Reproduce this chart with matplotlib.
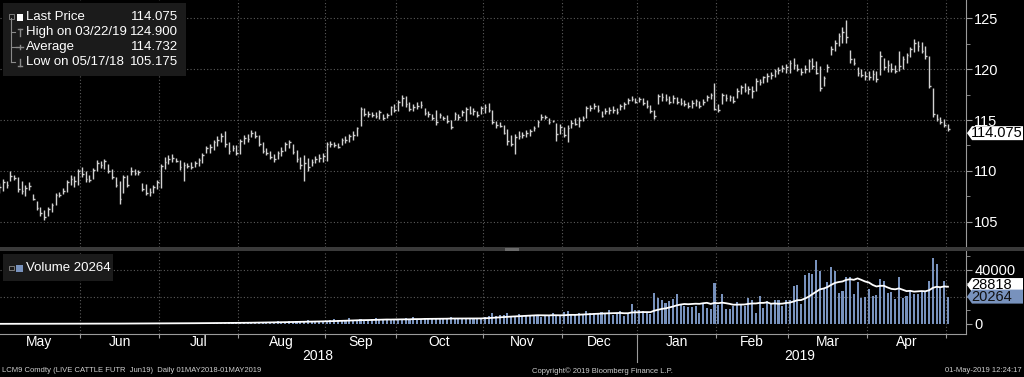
import numpy as np
import pandas as pd
import matplotlib
matplotlib.use("Agg")
import matplotlib.pyplot as plt
from matplotlib.patches import Rectangle, Polygon
from matplotlib.lines import Line2D

W, H = 1024, 377

# CME trading days 01MAY2018 - 01MAY2019
holidays = ["2018-05-28", "2018-07-04", "2018-09-03", "2018-11-22", "2018-12-25",
            "2019-01-01", "2019-01-21", "2019-02-18", "2019-04-19"]
dates = pd.bdate_range("2018-05-01", "2019-05-01")
dates = dates[~dates.isin(pd.to_datetime(holidays))]

# daily bars: (low, high, close)
bars = [
    # May 2018
    (107.8, 108.8, 108.4), (108.0, 109.2, 108.9), (108.3, 109.0, 108.6), (109.0, 110.0, 109.5),
    (109.1, 109.6, 109.3), (107.9, 109.4, 108.2), (107.7, 109.0, 108.0), (107.5, 108.6, 108.3),
    (108.1, 108.9, 108.5), (107.1, 107.7, 107.2), (106.1, 107.0, 106.3), (105.6, 106.4, 105.8),
    (105.175, 106.1, 105.5), (105.6, 106.4, 106.2), (105.9, 106.8, 106.6), (106.6, 107.8, 107.6),
    (107.4, 107.9, 107.6), (107.7, 108.3, 108.0), (107.9, 109.1, 108.9), (108.6, 109.6, 109.2),
    (108.4, 109.5, 109.0), (108.6, 110.2, 110.0),
    # Jun
    (109.4, 110.4, 109.7), (108.9, 110.0, 109.2), (108.9, 109.6, 109.1), (109.2, 110.3, 110.1),
    (110.0, 111.1, 110.8), (110.3, 111.0, 110.6), (110.2, 111.2, 111.0), (109.8, 110.7, 110.0),
    (109.2, 110.2, 109.4), (108.4, 109.4, 108.6), (106.7, 109.0, 107.2), (107.8, 109.6, 109.4),
    (108.4, 109.6, 108.6), (109.6, 110.4, 110.0), (109.6, 110.2, 109.8), (109.6, 110.1, 109.9),
    (108.0, 108.8, 108.2), (107.6, 108.7, 107.8), (107.5, 108.3, 107.9), (107.8, 108.6, 108.4),
    (108.2, 109.1, 108.9),
    # Jul
    (108.3, 110.7, 110.5), (110.2, 111.4, 110.9), (110.7, 111.6, 111.2), (110.9, 111.7, 111.3),
    (110.9, 111.3, 111.0), (110.1, 111.1, 110.4), (109.0, 110.9, 110.6), (110.3, 110.8, 110.5),
    (110.2, 110.9, 110.4), (110.4, 111.0, 110.8), (110.5, 111.3, 111.1), (110.8, 111.8, 111.6),
    (111.8, 112.4, 112.2), (111.8, 112.6, 112.3), (112.1, 113.0, 112.8), (112.4, 113.4, 113.0),
    (112.8, 113.7, 113.4), (112.3, 113.9, 112.6), (111.7, 112.8, 112.0), (112.0, 112.5, 112.2),
    (111.6, 112.5, 111.8),
    # Aug
    (111.7, 113.1, 112.9), (112.6, 113.5, 113.2), (112.8, 113.6, 113.1), (113.3, 114.0, 113.7),
    (113.2, 113.9, 113.4), (112.4, 113.5, 112.6), (111.8, 112.8, 112.0), (111.6, 112.2, 111.8),
    (111.2, 112.0, 111.4), (110.9, 111.7, 111.2), (111.2, 112.0, 111.8), (111.5, 112.3, 112.0),
    (112.0, 112.8, 112.6), (112.2, 113.0, 112.8), (111.7, 112.6, 111.9), (110.9, 112.1, 111.2),
    (110.2, 111.4, 110.6), (109.0, 111.6, 110.8), (110.0, 111.3, 110.4), (110.5, 111.2, 110.9),
    (110.8, 111.5, 111.2), (110.9, 111.7, 111.3), (110.9, 111.8, 111.5),
    # Sep
    (111.0, 112.8, 112.6), (112.3, 112.9, 112.6), (112.3, 112.8, 112.5), (112.2, 112.7, 112.3),
    (112.5, 113.2, 113.0), (112.7, 113.4, 113.0), (112.8, 113.6, 113.4), (113.0, 113.9, 113.5),
    (113.4, 114.3, 114.2), (114.4, 116.3, 116.1), (115.4, 116.2, 115.6), (115.3, 115.9, 115.6),
    (115.3, 115.8, 115.5), (115.2, 115.8, 115.4), (115.1, 116.0, 115.8), (115.0, 115.6, 115.2),
    (115.2, 115.7, 115.5), (115.5, 116.4, 116.3), (115.8, 116.6, 116.0),
    # Oct
    (115.9, 117.0, 116.8), (116.4, 117.5, 117.2), (116.3, 117.4, 116.6), (115.9, 116.8, 116.1),
    (115.9, 116.6, 116.3), (116.1, 116.8, 116.4), (116.2, 116.9, 116.5), (115.5, 116.2, 115.7),
    (115.3, 115.9, 115.6), (115.0, 115.6, 115.2), (114.5, 116.0, 114.8), (115.2, 115.7, 115.5),
    (115.0, 115.4, 115.2), (114.7, 115.5, 114.9), (114.1, 115.0, 114.3), (115.0, 115.8, 115.6),
    (115.0, 115.6, 115.3), (115.4, 116.0, 115.8), (114.9, 116.3, 116.1), (115.6, 116.4, 115.7),
    (115.5, 116.2, 115.9), (115.3, 115.9, 115.5), (115.6, 116.4, 116.2),
    # Nov
    (115.7, 116.6, 116.3), (115.8, 116.7, 116.0), (114.6, 116.0, 114.8), (114.2, 114.9, 114.5),
    (114.3, 114.8, 114.4), (113.6, 114.5, 113.7), (112.5, 114.1, 112.9), (112.4, 113.5, 112.6),
    (111.7, 113.6, 113.3), (113.1, 113.9, 113.4), (113.2, 113.8, 113.5), (113.3, 114.0, 113.7),
    (113.4, 114.1, 113.9), (113.9, 114.4, 114.2), (114.3, 115.0, 114.8), (115.0, 115.6, 115.3),
    (115.1, 115.5, 115.3), (114.6, 115.2, 114.8), (114.8, 115.0, 114.9), (112.9, 114.7, 113.6),
    (113.6, 114.6, 114.3),
    # Dec
    (113.3, 114.3, 113.5), (112.8, 114.5, 114.2), (114.2, 115.0, 114.7), (114.5, 115.2, 114.6),
    (114.3, 115.3, 115.0), (114.9, 115.4, 115.2), (115.2, 116.4, 116.2), (115.9, 116.5, 116.2),
    (116.1, 116.7, 116.4), (115.8, 116.5, 116.0), (115.3, 115.9, 115.4), (115.6, 116.2, 115.9),
    (115.6, 116.3, 116.0), (115.7, 116.4, 116.0), (115.6, 116.2, 115.8), (116.0, 116.6, 116.4),
    (116.1, 116.8, 116.6), (116.6, 117.2, 117.0), (116.9, 117.4, 117.1), (116.7, 117.2, 116.8),
    # Jan 2019
    (116.8, 117.3, 117.1), (116.5, 117.2, 116.7), (116.2, 117.0, 116.4), (115.7, 116.5, 115.9),
    (115.1, 116.0, 115.4), (116.6, 117.6, 117.4), (116.9, 117.7, 117.3), (116.9, 117.6, 117.1),
    (116.6, 117.4, 116.8), (116.7, 117.5, 117.2), (116.6, 117.3, 116.8), (116.5, 117.2, 116.7),
    (116.4, 117.0, 116.6), (116.2, 116.8, 116.4), (116.2, 117.0, 116.7), (116.4, 117.1, 116.9),
    (116.2, 116.9, 116.4), (116.5, 117.1, 116.8), (116.9, 117.5, 117.3), (117.1, 117.7, 117.5),
    (116.0, 118.6, 116.1),
    # Feb
    (115.8, 116.6, 116.0), (116.6, 117.7, 117.5), (116.9, 117.6, 117.2), (116.9, 117.5, 117.3),
    (116.7, 117.4, 116.9), (117.2, 118.2, 117.9), (117.6, 118.5, 118.3), (117.8, 118.6, 118.0),
    (117.6, 118.4, 118.1), (117.2, 118.4, 117.9), (117.9, 119.1, 118.8), (118.5, 119.0, 118.7),
    (118.6, 119.3, 119.2), (118.7, 119.6, 119.3), (119.0, 119.7, 119.4), (119.2, 120.0, 119.8),
    (119.5, 120.2, 119.9), (119.7, 120.4, 120.1), (119.6, 120.5, 120.2),
    # Mar
    (119.6, 120.9, 120.6), (120.0, 121.1, 120.4), (119.8, 120.5, 120.0), (119.4, 120.1, 119.7),
    (119.6, 120.4, 120.0), (119.7, 121.0, 120.8), (120.0, 121.1, 120.3), (119.5, 120.8, 119.6),
    (117.9, 120.3, 118.2), (118.4, 119.3, 119.1), (119.7, 120.5, 120.2), (121.4, 122.3, 122.0),
    (121.8, 122.9, 122.6), (122.3, 123.6, 123.3), (122.6, 124.2, 123.7), (122.6, 124.9, 123.2),
    (120.6, 121.9, 121.0), (120.4, 121.1, 120.6), (119.3, 120.2, 119.6), (119.2, 120.0, 119.4),
    (118.9, 119.8, 119.3),
    # Apr
    (118.9, 119.8, 119.2), (118.9, 119.9, 119.5), (118.7, 119.8, 119.0), (119.4, 121.8, 121.3),
    (119.9, 121.1, 120.2), (119.7, 120.9, 120.4), (119.7, 120.6, 120.0), (119.6, 120.4, 119.8),
    (119.8, 121.8, 120.3), (120.0, 121.3, 121.0), (120.6, 121.6, 121.4), (121.2, 122.2, 122.0),
    (121.7, 123.0, 122.6), (121.8, 122.8, 122.3), (121.6, 122.7, 121.8), (121.0, 122.3, 121.3),
    (118.2, 121.3, 118.4), (115.3, 118.2, 115.6), (114.9, 115.6, 115.1), (114.6, 115.3, 114.8),
    (114.3, 115.1, 114.5),
    # May 1
    (113.9, 114.6, 114.075),
]

volume = [
    # May 2018
    120, 80, 150, 210, 90, 160, 230, 130, 280, 190, 250, 310, 180, 140, 260, 200, 170, 220, 150, 300, 240, 180,
    # Jun
    260, 320, 210, 380, 290, 450, 310, 270, 400, 350, 520, 300, 280, 460, 390, 330, 510, 420, 360, 480, 550,
    # Jul
    600, 450, 700, 520, 880, 640, 590, 760, 830, 500, 940, 720, 680, 1050, 610, 870, 990, 760, 1120, 930, 800,
    # Aug
    1200, 950, 1400, 1100, 1650, 1300, 1250, 1800, 1500, 1350, 2100, 1700, 1450, 1900, 1600, 2300, 1750, 2050,
    2600, 1900, 2200, 2450, 2100,
    # Sep
    2400, 2800, 3500, 2600, 3100, 2900, 4200, 3300, 2700, 3600, 3000, 2800, 3400, 4800, 3200, 2900, 3700, 3100, 3500,
    # Oct
    3900, 3300, 4100, 3600, 5200, 3800, 3400, 4400, 3700, 3900, 4600, 3500, 4200, 3800, 5100, 4000, 3600, 4300,
    3900, 4700, 4100, 4500, 3800,
    # Nov
    5400, 6200, 7800, 5800, 6600, 6900, 8400, 6100, 5700, 7200, 5900, 6300, 6800, 5600, 6500, 4900, 6000, 6700,
    8200, 5800, 6400,
    # Dec
    8600, 9400, 7200, 6800, 8100, 7500, 9800, 7900, 8300, 7100, 9000, 7500, 10000, 6500, 8000, 9500, 6000, 7500,
    15000, 10000,
    # Jan 2019
    10500, 9500, 8000, 7500, 23000, 19000, 17500, 15500, 17000, 18500, 22500, 15000, 13500, 12500, 12500, 13500,
    8000, 15000, 12000, 11000, 30000,
    # Feb
    14000, 22000, 11000, 11000, 13000, 16000, 14000, 13500, 19500, 17500, 8500, 21000, 12000, 17000, 15000, 17500,
    17500, 13000, 18000,
    # Mar
    17500, 28000, 28500, 15000, 36000, 38000, 37000, 47700, 39000, 26000, 31000, 42000, 39000, 23000, 24500, 35000,
    35000, 22000, 31000, 19500, 20000,
    # Apr
    26000, 21000, 21500, 33000, 31500, 23000, 23500, 18500, 34500, 19500, 20500, 25000, 22000, 22500, 23500, 23500,
    32000, 49000, 44500, 26500, 32000,
    # May 1
    20264,
]

lows = np.array([b[0] for b in bars])
highs = np.array([b[1] for b in bars])
closes = np.array([b[2] for b in bars])
vol = np.array(volume, dtype=float)
x = np.arange(len(dates))
vol_avg = pd.Series(vol).rolling(15, min_periods=1).mean().values

month_first = [i for i in range(len(dates)) if i == 0 or dates[i].month != dates[i - 1].month]
bounds = [i - 0.5 for i in month_first[1:]]
edges = [-0.5] + bounds
mids = [(edges[k] + edges[k + 1]) / 2 for k in range(len(edges) - 1)]
month_names = [dates[i].strftime("%b") for i in month_first[:-1]]

BG = "black"
GRID = "#5c5c5c"
SPINE = "#9a9a9a"
TXT = "white"
BARC = "#d2d2d2"
VOLC = "#7892bd"
plt.rcParams["font.family"] = ["Liberation Sans", "DejaVu Sans"]

fig = plt.figure(figsize=(W / 100, H / 100), dpi=100, facecolor=BG)


def rect(x0, y0, x1, y1):
    return [x0 / W, 1 - y1 / H, (x1 - x0) / W, (y1 - y0) / H]


def fx(px):
    return px / W


def fy(py):
    return 1 - py / H


xlim = (0.25, 256.8)
ax = fig.add_axes(rect(0, 0, 966, 247), facecolor=BG)
axv = fig.add_axes(rect(0, 251, 966, 334), facecolor=BG)

# price bars
ax.vlines(x, lows, highs, color=BARC, lw=1.0)
ax.hlines(closes, x, x + 0.45, color=BARC, lw=1.0)
pmin, pmax = 103.18, 126.82
ax.set_ylim(pmin, pmax)

# volume
axv.bar(x, vol, width=0.55, color=VOLC, linewidth=0)
axv.plot(x, vol_avg, color="white", lw=1.3)
vmin, vmax = -7400, 54000
axv.set_ylim(vmin, vmax)

for a in (ax, axv):
    a.set_xlim(*xlim)
    for s in ("left", "top", "bottom"):
        a.spines[s].set_visible(False)
    a.spines["right"].set_color(SPINE)
    a.yaxis.tick_right()
    a.tick_params(axis="y", which="both", colors=SPINE, labelcolor=TXT, direction="out", labelsize=10.5, pad=2)
    a.tick_params(axis="y", which="major", length=4)
    a.tick_params(axis="y", which="minor", length=3)
    for b in bounds:
        a.axvline(b, color=GRID, lw=0.8, ls=(0, (1, 2)), zorder=0)

ax.set_yticks([105, 110, 115, 120, 125])
ax.set_yticks([102.5, 107.5, 112.5, 117.5, 122.5], minor=True)
ax.set_xticks([])
for t in [105, 110, 115, 120, 125]:
    ax.axhline(t, color=GRID, lw=0.8, ls=(0, (1, 2)), zorder=0)

axv.set_yticks([0, 40000])
axv.set_yticklabels(["0", "40000"])
axv.set_yticks([10000, 20000, 30000, 50000], minor=True)
for t in [20000, 40000]:
    axv.axhline(t, color=GRID, lw=0.8, ls=(0, (1, 2)), zorder=0)

axv.spines["bottom"].set_visible(True)
axv.spines["bottom"].set_color(SPINE)
axv.set_xticks(bounds)
axv.set_xticklabels([])
axv.set_xticks(mids, minor=True)
axv.set_xticklabels(month_names, minor=True)
axv.tick_params(axis="x", which="major", colors=SPINE, length=3, direction="out")
axv.tick_params(axis="x", which="minor", length=0, labelcolor=TXT, labelsize=10, pad=1)

# panel separator
fig.patches.append(Rectangle((0, fy(251)), 1, (251 - 247) / H, transform=fig.transFigure,
                             facecolor="#3a3a3a", edgecolor="none"))
fig.patches.append(Rectangle((fx(505), fy(250.5)), 14 / W, 3 / H, transform=fig.transFigure,
                             facecolor="#6a6a6a", edgecolor="none"))


def tag(yc, label, face, color):
    pts = [(fx(967), fy(yc)), (fx(972), fy(yc - 7)), (fx(1023), fy(yc - 7)),
           (fx(1023), fy(yc + 7)), (fx(972), fy(yc + 7))]
    fig.patches.append(Polygon(pts, closed=True, transform=fig.transFigure, facecolor=face, edgecolor="none"))
    fig.text(fx(971), fy(yc), label, color=color, fontsize=10.5, va="center", ha="left")


def price_px(p):
    return 247 * (pmax - p) / (pmax - pmin)


def vol_px(v):
    return 251 + 83 * (vmax - v) / (vmax - vmin)


tag(price_px(closes[-1]), "114.075", "white", "black")
tag(vol_px(28818), "28818", "white", "black")
tag(vol_px(vol[-1]), "20264", "#7892bd", "#111111")

# legend box (price)
fig.patches.append(Rectangle((fx(3), fy(76)), 183 / W, 73 / H, transform=fig.transFigure,
                             facecolor="#1b1b1b", edgecolor="none"))
rows = [("Last Price", "114.075"), ("High on 03/22/19", "124.900"),
        ("Average", "114.732"), ("Low on 05/17/18", "105.175")]
row_y = [17, 32, 47, 62]
for (lab, val), yy in zip(rows, row_y):
    fig.text(fx(26), fy(yy), lab, color=TXT, fontsize=9.5, va="center", ha="left")
    fig.text(fx(178), fy(yy), val, color=TXT, fontsize=9.5, va="center", ha="right")
LG = "#8a8a8a"
fig.lines.append(Line2D([fx(11), fx(11)], [fy(18), fy(62)], transform=fig.transFigure, color=LG, lw=0.8))
for yy in row_y[1:]:
    fig.lines.append(Line2D([fx(11), fx(15)], [fy(yy), fy(yy)], transform=fig.transFigure, color=LG, lw=0.8))
fig.patches.append(Rectangle((fx(9), fy(18.5)), 4.5 / W, 4.5 / H, transform=fig.transFigure,
                             facecolor="#1b1b1b", edgecolor=LG, lw=0.6))
fig.patches.append(Rectangle((fx(16.5), fy(20.5)), 6.5 / W, 7 / H, transform=fig.transFigure,
                             facecolor="white", edgecolor="none"))
# high / average / low glyphs
fig.lines.append(Line2D([fx(19.5), fx(19.5)], [fy(29), fy(36)], transform=fig.transFigure, color=LG, lw=1))
fig.lines.append(Line2D([fx(17.5), fx(21.5)], [fy(29), fy(29)], transform=fig.transFigure, color=LG, lw=1))
fig.lines.append(Line2D([fx(16), fx(23)], [fy(47), fy(47)], transform=fig.transFigure, color=LG, lw=1))
fig.lines.append(Line2D([fx(19.5), fx(19.5)], [fy(45), fy(49)], transform=fig.transFigure, color=LG, lw=1))
fig.lines.append(Line2D([fx(19.5), fx(19.5)], [fy(59), fy(66)], transform=fig.transFigure, color=LG, lw=1))
fig.lines.append(Line2D([fx(17.5), fx(21.5)], [fy(66), fy(66)], transform=fig.transFigure, color=LG, lw=1))

# legend box (volume)
fig.patches.append(Rectangle((fx(3), fy(281)), 110 / W, 27 / H, transform=fig.transFigure,
                             facecolor="#1b1b1b", edgecolor="none"))
fig.patches.append(Rectangle((fx(9), fy(270)), 4.5 / W, 4.5 / H, transform=fig.transFigure,
                             facecolor="#1b1b1b", edgecolor=LG, lw=0.6))
fig.patches.append(Rectangle((fx(16), fy(271.5)), 6.5 / W, 7 / H, transform=fig.transFigure,
                             facecolor=VOLC, edgecolor="none"))
fig.text(fx(26), fy(268), "Volume 20264", color=TXT, fontsize=9.5, va="center", ha="left")

# years and footer
fig.text(fx(318), fy(356), "2018", color=TXT, fontsize=10, va="center", ha="center")
fig.text(fx(800), fy(356), "2019", color=TXT, fontsize=10, va="center", ha="center")
fig.lines.append(Line2D([fx(637), fx(637)], [fy(336), fy(362)], transform=fig.transFigure, color=SPINE, lw=0.8))
fig.text(fx(2), fy(371), "LCM9 Comdty (LIVE CATTLE FUTR  Jun19)  Daily 01MAY2018-01MAY2019",
         color="#cfcfcf", fontsize=5.5, va="center", ha="left")
fig.text(fx(602), fy(371), "Copyright\u00a9 2019 Bloomberg Finance L.P.", color="#cfcfcf",
         fontsize=5.5, va="center", ha="center")
fig.text(fx(1022), fy(371), "01-May-2019 12:24:17", color="#cfcfcf", fontsize=5.5, va="center", ha="right")

fig.savefig("out.png", dpi=100, facecolor=BG)
